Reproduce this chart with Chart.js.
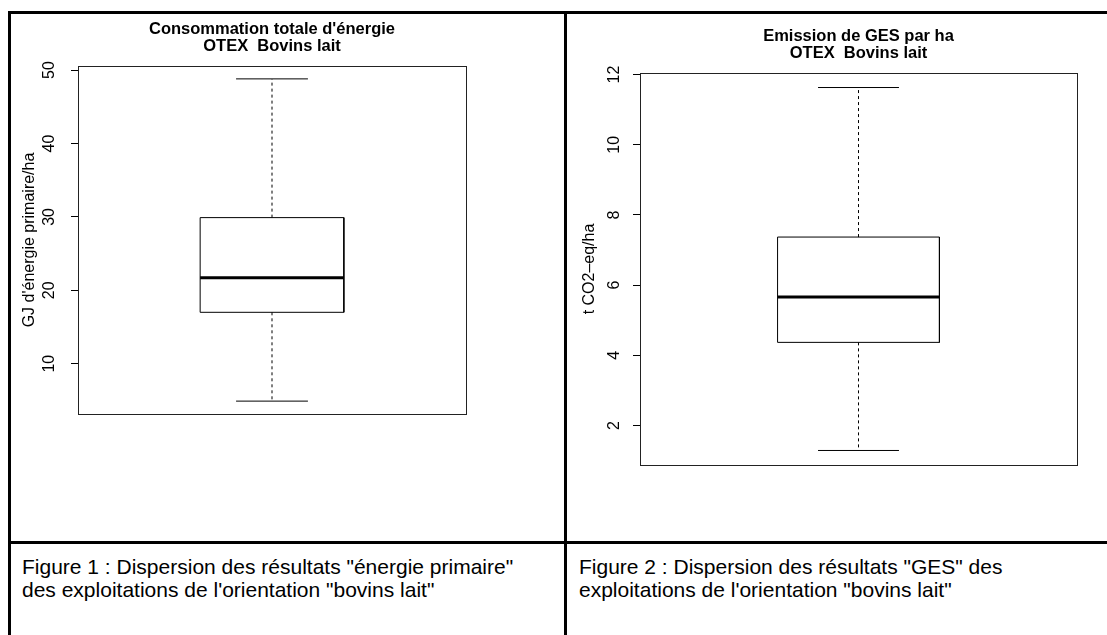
<!DOCTYPE html>
<html>
<head>
<meta charset="utf-8">
<script src="https://cdn.jsdelivr.net/npm/chart.js@4.4.0/dist/chart.umd.min.js"></script>
<style>
  body { margin: 0; background: #fff; width: 1107px; height: 635px; overflow: hidden; position: relative;
         font-family: "Liberation Sans", Arial, sans-serif; }
  .rule { position: absolute; background: #000; }
  .cell { position: absolute; }
  .caption { position: absolute; font-size: 21px; line-height: 23px; color: #000; }
</style>
</head>
<body>
<div class="rule" style="left:8px;top:11px;width:1099px;height:3px"></div>
<div class="rule" style="left:8px;top:11px;width:3px;height:624px"></div>
<div class="rule" style="left:564px;top:11px;width:3px;height:624px"></div>
<div class="rule" style="left:8px;top:541px;width:1099px;height:3px"></div>

<div class="cell" style="left:11px;top:14px"><canvas id="chart1" width="553" height="527"></canvas></div>
<div class="cell" style="left:567px;top:14px"><canvas id="chart2" width="540" height="527"></canvas></div>

<div class="caption" style="left:22px;top:555px">Figure 1 : Dispersion des résultats "énergie primaire"<br>des exploitations de l'orientation "bovins lait"</div>
<div class="caption" style="left:579px;top:555px">Figure 2 : Dispersion des résultats "GES" des<br>exploitations de l'orientation "bovins lait"</div>

<script>
// min, Q1, médiane, Q3, max
const energieStats = [4.9, 17.0, 21.7, 29.9, 48.8];
const gesStats = [1.29, 4.37, 5.66, 7.37, 11.63];
const energieTicks = [10, 20, 30, 40, 50];
const gesTicks = [2, 4, 6, 8, 10, 12];
const energieTitle = ["Consommation totale d'énergie", "OTEX  Bovins lait"];
const gesTitle = ["Emission de GES par ha", "OTEX  Bovins lait"];
const energieLabel = "GJ d'énergie primaire/ha";
const gesLabel = "t CO2\u2013eq/ha";

Chart.defaults.font.family = '"Liberation Sans", Arial, sans-serif';
Chart.defaults.color = '#000';

// cadre du graphique + étiquettes d'axe tournées comme dans R
const rFrame = {
  id: 'rFrame',
  afterDatasetsDraw(chart, args, opts) {
    const { ctx, chartArea: a } = chart;
    const y = chart.scales.y;
    ctx.save();
    ctx.strokeStyle = '#222';
    ctx.lineWidth = 1;
    ctx.strokeRect(Math.round(a.left) + 0.5, Math.round(a.top) + 0.5,
                   Math.round(a.right - a.left), Math.round(a.bottom - a.top));
    ctx.fillStyle = '#000';
    ctx.font = '16px "Liberation Sans", Arial, sans-serif';
    ctx.textAlign = 'center';
    ctx.textBaseline = 'middle';
    y.ticks.forEach(t => {
      ctx.save();
      ctx.translate(opts.labelX, y.getPixelForValue(t.value));
      ctx.rotate(-Math.PI / 2);
      ctx.fillText(String(t.value), 0, 0);
      ctx.restore();
    });
    ctx.restore();
  }
};

function seg(data, width, dash) {
  return { data: data, borderColor: '#000', borderWidth: width, borderDash: dash || [],
           pointRadius: 0, fill: false, tension: 0 };
}

function boxplot(id, stats, ticks, title, ylab, lay) {
  const [mn, q1, med, q3, mx] = stats;
  const ext = (mx - mn) * 0.04;
  new Chart(document.getElementById(id), {
    type: 'line',
    data: {
      datasets: [
        seg([{x: 0.8, y: q1}, {x: 0.8, y: q3}, {x: 1.2, y: q3}, {x: 1.2, y: q1}, {x: 0.8, y: q1}], 1),
        seg([{x: 0.8, y: med}, {x: 1.2, y: med}], 3),
        seg([{x: 1, y: q3}, {x: 1, y: mx}], 1, [3, 3]),
        seg([{x: 1, y: q1}, {x: 1, y: mn}], 1, [3, 3]),
        seg([{x: 0.9, y: mx}, {x: 1.1, y: mx}], 1),
        seg([{x: 0.9, y: mn}, {x: 1.1, y: mn}], 1)
      ]
    },
    options: {
      responsive: false,
      animation: false,
      devicePixelRatio: 1,
      layout: { padding: { left: 0, top: 0, right: lay.right, bottom: lay.bottom } },
      plugins: {
        legend: { display: false },
        tooltip: { enabled: false },
        title: {
          display: true, text: title, fullSize: false, color: '#000',
          font: { size: 16.5, weight: 'bold', lineHeight: 17 / 16.5 },
          padding: { top: lay.titleTop, bottom: lay.titleBottom }
        },
        rFrame: { labelX: lay.tickX }
      },
      scales: {
        x: { type: 'linear', display: false, min: 0.46, max: 1.54 },
        y: {
          min: mn - ext, max: mx + ext,
          afterBuildTicks: s => { s.ticks = ticks.map(v => ({ value: v })); },
          afterFit: s => { s.width = lay.left; },
          ticks: { display: false },
          grid: { drawOnChartArea: false, tickLength: 7, color: '#000', lineWidth: 1 },
          border: { display: false },
          title: { display: true, text: ylab, color: '#000', font: { size: 16 },
                   padding: { top: lay.ylabTop, bottom: 0 } }
        }
      }
    },
    plugins: [rFrame]
  });
}

boxplot('chart1', energieStats, energieTicks, energieTitle, energieLabel,
  { left: 67, right: 98, bottom: 127, titleTop: 6.5, titleBottom: 11.5, tickX: 39, ylabTop: 9 });
boxplot('chart2', gesStats, gesTicks, gesTitle, gesLabel,
  { left: 73, right: 30, bottom: 76, titleTop: 13.5, titleBottom: 11.5, tickX: 48, ylabTop: 13 });
</script>
</body>
</html>
